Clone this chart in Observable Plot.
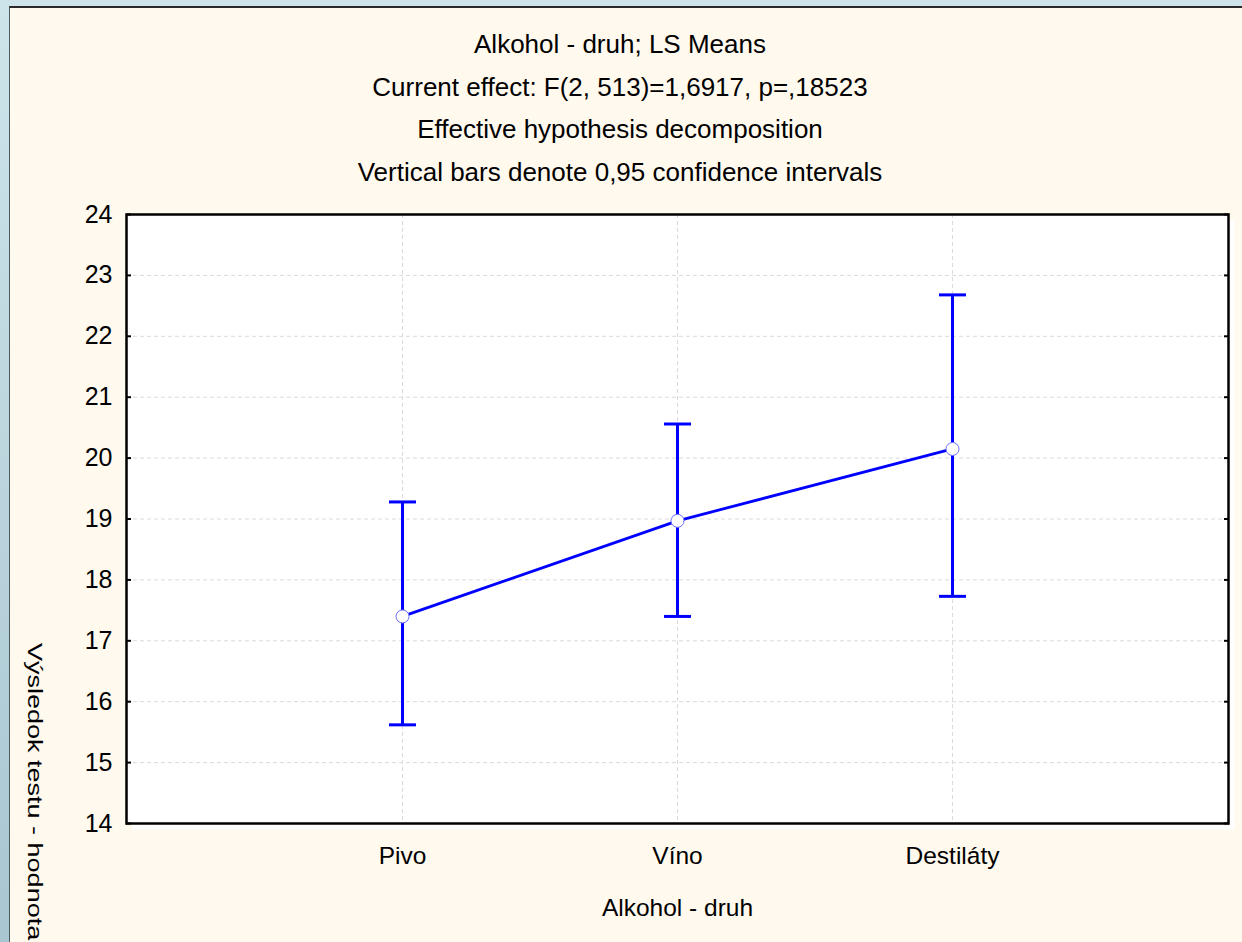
<!DOCTYPE html>
<html><head><meta charset="utf-8">
<script src="https://cdn.jsdelivr.net/npm/d3@7"></script>
<script src="https://cdn.jsdelivr.net/npm/@observablehq/plot@0.6"></script>
<style>
html,body{margin:0;padding:0;}
body{width:1242px;height:942px;overflow:hidden;background:#CDE4EA;position:relative;font-family:"Liberation Sans",Arial,sans-serif;color:#000;}
#strip{position:absolute;left:0;top:0;width:9px;height:942px;background:linear-gradient(#CDE4EA,#A9C6D1);}
#panel{position:absolute;left:9px;top:6px;width:1233px;height:936px;background:#FFF9EE;border-top:2px solid #2a2a2a;border-left:1px solid #4a5a60;box-sizing:border-box;}
#title{position:absolute;left:0;width:1240px;top:23px;text-align:center;font-size:26px;line-height:42.5px;}
#chart{position:absolute;left:0;top:0;}
#ytitle{position:absolute;left:44.6px;top:643px;white-space:nowrap;font-size:27px;line-height:27px;transform-origin:0 0;transform:rotate(90deg) scaleY(0.78);}
</style>
</head><body>
<div id="strip"></div>
<div id="panel"></div>
<div id="chart"></div>
<div id="title"></div>
<div id="ytitle"></div>
<script>
const titleLines = [
  "Alkohol - druh; LS Means",
  "Current effect: F(2, 513)=1,6917, p=,18523",
  "Effective hypothesis decomposition",
  "Vertical bars denote 0,95 confidence intervals"
];
const xTitle = "Alkohol - druh";
const yTitle = "Výsledok testu - hodnota";
const categories = ["Pivo", "Víno", "Destiláty"];
const means = [17.40, 18.97, 20.15];
const lower = [15.62, 17.40, 17.73];
const upper = [19.28, 20.56, 22.68];
const yTicks = [14, 15, 16, 17, 18, 19, 20, 21, 22, 23, 24];

document.getElementById("title").innerHTML = titleLines.map(t => `<div>${t}</div>`).join("");
document.getElementById("ytitle").textContent = yTitle;

const rows = categories.map((c, i) => ({cat: c, mean: means[i], lo: lower[i], hi: upper[i]}));
const cap = {draw(ctx) { ctx.moveTo(-13.5, 0); ctx.lineTo(13.5, 0); }};
const blue = "#0000ff";

const chart = Plot.plot({
  width: 1242, height: 942,
  marginLeft: 126, marginRight: 14, marginTop: 214, marginBottom: 119,
  style: {background: "transparent", color: "#000", overflow: "visible"},
  x: {type: "point", domain: categories, padding: 1, label: null},
  y: {domain: [14, 24], label: null},
  marks: [
    Plot.frame({fill: "white", dx: 6, dy: 6}),
    Plot.frame({fill: "white"}),
    Plot.gridY(yTicks, {stroke: "#dadada", strokeOpacity: 1, strokeDasharray: "4,3", strokeWidth: 1}),
    Plot.gridX(categories, {stroke: "#dadada", strokeOpacity: 1, strokeDasharray: "4,3", strokeWidth: 1}),
    Plot.axisY(yTicks, {tickSize: 0, tickPadding: 14, fontSize: 25, fontFamily: "Liberation Sans", tickFormat: d3.format("d")}),
    Plot.axisY(yTicks, {tickSize: 5, dx: 5, fill: "none", strokeWidth: 2}),
    Plot.axisY(yTicks, {anchor: "right", tickSize: 5, dx: -5, fill: "none", strokeWidth: 2}),
    Plot.axisX(categories, {tickSize: 0, tickPadding: 23, fontSize: 24.5, fontFamily: "Liberation Sans", label: xTitle, labelAnchor: "center", labelOffset: 92}),
    Plot.ruleX(rows, {x: "cat", y1: "lo", y2: "hi", stroke: blue, strokeWidth: 3}),
    Plot.dot(rows, {x: "cat", y: "lo", symbol: cap, fill: "none", stroke: blue, strokeWidth: 3}),
    Plot.dot(rows, {x: "cat", y: "hi", symbol: cap, fill: "none", stroke: blue, strokeWidth: 3}),
    Plot.line(rows, {x: "cat", y: "mean", stroke: blue, strokeWidth: 2.8}),
    Plot.dot(rows, {x: "cat", y: "mean", r: 6.5, fill: "white", stroke: "#7070ff", strokeWidth: 1}),
    Plot.frame({stroke: "#000", strokeWidth: 2.5})
  ]
});
document.getElementById("chart").appendChild(chart);
</script>
</body></html>
